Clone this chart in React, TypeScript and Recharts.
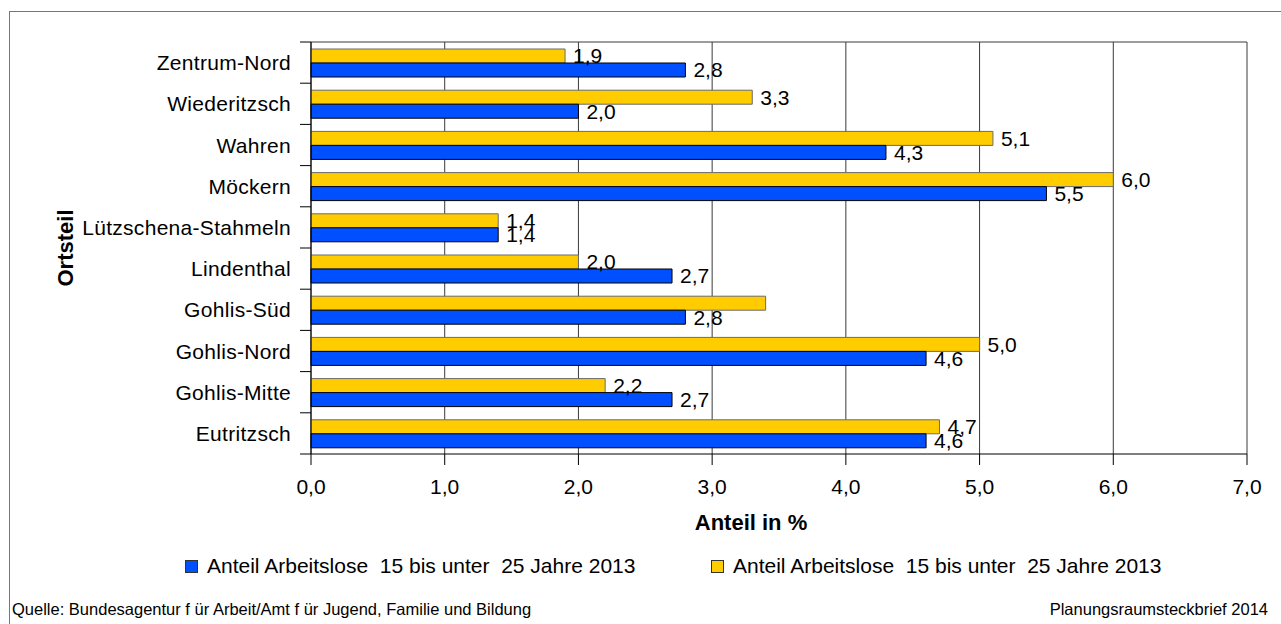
import React from "react";
import { BarChart, Bar, XAxis, YAxis, CartesianGrid, LabelList } from "recharts";

// Ortsteile, top to bottom
const districts = [
	"Zentrum-Nord",
	"Wiederitzsch",
	"Wahren",
	"Möckern",
	"Lützschena-Stahmeln",
	"Lindenthal",
	"Gohlis-Süd",
	"Gohlis-Nord",
	"Gohlis-Mitte",
	"Eutritzsch",
];
const blueShare = [2.8, 2.0, 4.3, 5.5, 1.4, 2.7, 2.8, 4.6, 2.7, 4.6];
const yellowShare = [1.9, 3.3, 5.1, 6.0, 1.4, 2.0, 3.4, 5.0, 2.2, 4.7];
// the yellow bar of these districts carries no value label
const yellowUnlabeled = ["Gohlis-Süd"];
const xTicks = [0, 1, 2, 3, 4, 5, 6, 7];
const seriesName = "Anteil Arbeitslose  15 bis unter  25 Jahre 2013";

const W = 1281;
const H = 624;
const MARGIN = { top: 42, right: 34, bottom: 110, left: 0 };
const Y_AXIS_W = 311;
const X_AXIS_H = 60;
const PLOT_H = H - MARGIN.top - MARGIN.bottom - X_AXIS_H;
const BAND = PLOT_H / districts.length;
const FONT = "'Liberation Sans', Arial, sans-serif";

const BLUE = "#0050FF";
const YELLOW = "#FFCC00";

const fmt = (v: number | null | undefined) =>
	v == null ? "" : Number(v).toFixed(1).replace(".", ",");

const data = districts.map((name, i) => ({
	name,
	blue: blueShare[i],
	yellow: yellowShare[i],
	yellowLabel: yellowUnlabeled.includes(name) ? null : yellowShare[i],
}));

// category label plus tick marks on the band boundaries
const CategoryTick = (props: any) => {
	const { y, payload, index } = props;
	const axisX = MARGIN.left + Y_AXIS_W;
	return (
		<g>
			<line x1={axisX - 11} x2={axisX} y1={y - BAND / 2} y2={y - BAND / 2} stroke="#000" />
			{index === districts.length - 1 && (
				<line x1={axisX - 11} x2={axisX} y1={y + BAND / 2} y2={y + BAND / 2} stroke="#000" />
			)}
			<text
				x={axisX - 20}
				y={y}
				textAnchor="end"
				dominantBaseline="central"
				fontSize={21}
				letterSpacing={0.3}
				fill="#000"
			>
				{payload.value}
			</text>
		</g>
	);
};

const YTitle = ({ viewBox }: any) => {
	const cx = viewBox.x + 65;
	const cy = viewBox.y + viewBox.height / 2;
	return (
		<text
			x={cx}
			y={cy}
			transform={`rotate(-90, ${cx}, ${cy})`}
			textAnchor="middle"
			dominantBaseline="central"
			fontSize={22}
			fontWeight="bold"
			fill="#000"
		>
			Ortsteil
		</text>
	);
};

const XTitle = ({ viewBox }: any) => (
	<text
		x={viewBox.x + viewBox.width / 2 - 28}
		y={viewBox.y + 68}
		textAnchor="middle"
		dominantBaseline="central"
		fontSize={22}
		fontWeight="bold"
		fill="#000"
	>
		Anteil in %
	</text>
);

const LegendItem = ({ color, left }: { color: string; left: number }) => (
	<div style={{ position: "absolute", left, top: 554, display: "flex", alignItems: "center" }}>
		<span
			style={{
				width: 11,
				height: 11,
				background: color,
				border: "1px solid #333",
				marginRight: 9,
				display: "inline-block",
			}}
		/>
		<span style={{ fontSize: 21, whiteSpace: "pre", lineHeight: "24px" }}>{seriesName}</span>
	</div>
);

export default function App() {
	return (
		<div style={{ position: "absolute", left: 0, top: 0, width: W, height: H, fontFamily: FONT, background: "#fff", overflow: "hidden" }}>
			<div
				style={{
					position: "absolute",
					left: 9,
					top: 11,
					width: W,
					height: H,
					borderLeft: "1px solid #777",
					borderTop: "1px solid #777",
				}}
			/>
			<BarChart
				width={W}
				height={H}
				data={data}
				layout="vertical"
				margin={MARGIN}
				barGap={0}
				barSize={14}
				style={{ position: "absolute", left: 0, top: 0 }}
			>
				<CartesianGrid
					stroke="#3a3a3a"
					horizontalCoordinatesGenerator={({ offset }: any) => [offset.top]}
				/>
				<XAxis
					type="number"
					domain={[0, 7]}
					ticks={xTicks}
					interval={0}
					tickFormatter={fmt}
					tickSize={11}
					tickMargin={14}
					height={X_AXIS_H}
					stroke="#000"
					tick={{ fill: "#000", fontSize: 21 }}
					label={<XTitle />}
				/>
				<YAxis
					type="category"
					dataKey="name"
					width={Y_AXIS_W}
					interval={0}
					tickLine={false}
					stroke="#000"
					tick={<CategoryTick />}
					label={<YTitle />}
				/>
				<Bar dataKey="yellow" name={seriesName} fill={YELLOW} stroke="#6b6b6b" isAnimationActive={false}>
					<LabelList dataKey="yellowLabel" position="right" offset={8} formatter={fmt} fill="#000" fontSize={21} />
				</Bar>
				<Bar dataKey="blue" name={seriesName} fill={BLUE} stroke="#000" isAnimationActive={false}>
					<LabelList dataKey="blue" position="right" offset={8} formatter={fmt} fill="#000" fontSize={21} />
				</Bar>
			</BarChart>
			<LegendItem color={BLUE} left={185} />
			<LegendItem color={YELLOW} left={711} />
			<div style={{ position: "absolute", left: 12, top: 600, fontSize: 16.5 }}>
				Quelle: Bundesagentur f ür Arbeit/Amt f ür Jugend, Familie und Bildung
			</div>
			<div style={{ position: "absolute", right: 13, top: 600, fontSize: 16.5 }}>
				Planungsraumsteckbrief 2014
			</div>
		</div>
	);
}
